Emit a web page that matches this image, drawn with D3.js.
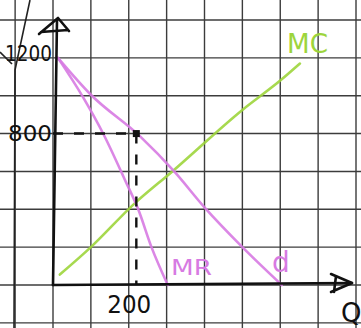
<!DOCTYPE html>
<html>
<head>
<meta charset="utf-8">
<script src="https://cdn.jsdelivr.net/npm/d3@7"></script>
<style>
body { margin: 0; background: #fff; }
svg { display: block; }
text { font-family: "DejaVu Sans", sans-serif; }
</style>
</head>
<body>
<svg width="361" height="328"></svg>
<script>
/*
Values (Q on x, P on y)
*/
var demandQ = [13, 100, 230, 320, 400, 500, 604];
var demandP = [1200, 1005, 785, 600, 410, 200, 0];
var mrQ = [13, 80, 135, 190, 225, 260, 303];
var mrP = [1200, 990, 790, 555, 400, 200, 0];
var mcQ = [18, 100, 215, 315, 500, 600, 652];
var mcP = [55, 200, 430, 600, 925, 1080, 1170];
var priceTicks = [800, 1200];
var qtyTicks = [200];
var optQ = 220, optP = 800;

var PINK = "#d77ae2", GREEN = "#9dd53c";

var svg = d3.select("svg"),
    width = +svg.attr("width"),
    height = +svg.attr("height");

// one grid cell = 100 units of Q and 200 units of P
var x = d3.scaleLinear().domain([0, 800]).range([53, 356]),
    y = d3.scaleLinear().domain([0, 1400]).range([285, 20]);

/* squared paper */
var grid = svg.append("g").attr("stroke", "#3c3c3c").attr("stroke-width", 1.4);
grid.selectAll(".v")
    .data(d3.range(-100, 801, 100))
    .enter().append("line")
    .attr("x1", function (d) { return x(d); })
    .attr("x2", function (d) { return x(d); })
    .attr("y1", 0).attr("y2", height);
grid.selectAll(".h")
    .data(d3.range(-200, 1401, 200))
    .enter().append("line")
    .attr("y1", function (d) { return y(d); })
    .attr("y2", function (d) { return y(d); })
    .attr("x1", 0).attr("x2", width);

// stray pen strokes on the left
svg.append("path")
    .attr("d", "M30,0 L15,70 L14,328 M0,52 L12,64")
    .attr("fill", "none").attr("stroke", "#222").attr("stroke-width", 1.6);

/* curves */
var line = d3.line()
    .x(function (d) { return x(d[0]); })
    .y(function (d) { return y(d[1]); })
    .curve(d3.curveMonotoneX);

function drawCurve(qs, ps, color) {
    svg.append("path")
        .datum(d3.zip(qs, ps))
        .attr("d", line)
        .attr("fill", "none")
        .attr("stroke", color)
        .attr("stroke-width", 2.6)
        .attr("stroke-linecap", "round")
        .attr("stroke-linejoin", "round")
        .attr("opacity", 0.9);
}
drawCurve(mcQ, mcP, GREEN);
drawCurve(demandQ, demandP, PINK);
drawCurve(mrQ, mrP, PINK);

/* dashed guides to the chosen point */
var dash = svg.append("g")
    .attr("stroke", "#111").attr("stroke-width", 2.4)
    .attr("stroke-dasharray", "10,11");
dash.append("line")
    .attr("x1", x(0)).attr("y1", y(optP))
    .attr("x2", x(optQ)).attr("y2", y(optP));
dash.append("line")
    .attr("x1", x(optQ)).attr("y1", y(optP))
    .attr("x2", x(optQ)).attr("y2", y(0));
svg.append("rect")
    .attr("x", x(optQ) - 3.5).attr("y", y(optP) - 3.5)
    .attr("width", 7).attr("height", 7)
    .attr("fill", "#111");

/* axes */
var axisY = svg.append("g")
    .attr("transform", "translate(" + x(0) + ",0)")
    .call(d3.axisLeft(y).tickValues(priceTicks).tickFormat(d3.format("d"))
        .tickSize(0).tickPadding(1));
var axisX = svg.append("g")
    .attr("transform", "translate(0," + y(0) + ")")
    .call(d3.axisBottom(x).tickValues(qtyTicks).tickFormat(d3.format("d"))
        .tickSize(0).tickPadding(10));
[axisY, axisX].forEach(function (a) {
    a.select(".domain").remove();
    a.selectAll("text")
        .attr("fill", "#111")
        .attr("font-size", 22)
        .attr("font-family", "DejaVu Sans, sans-serif");
});
axisY.selectAll("text")
    .attr("textLength", function (d) { return d === 1200 ? 47 : 44; })
    .attr("lengthAdjust", "spacingAndGlyphs")
    .attr("dy", function (d) { return d === 1200 ? "0.1em" : "0.3em"; });
axisX.selectAll("text").attr("font-size", 25).attr("textLength", 44)
    .attr("lengthAdjust", "spacingAndGlyphs");

var ink = svg.append("g").attr("fill", "none").attr("stroke", "#111")
    .attr("stroke-width", 2.6).attr("stroke-linecap", "round").attr("stroke-linejoin", "round");
ink.append("path").attr("d", "M" + x(0) + "," + y(0) + " L" + (x(0) + 4) + ",20");
ink.append("path").attr("d", "M39,34 L58,18 L69,31 M41,32 L68,30");
ink.append("path").attr("d", "M" + x(0) + "," + y(0) + " L352,283");
ink.append("path").attr("d", "M331,274 L352,283 L331,292 M336,276 L334,292");

/* curve labels */
svg.append("text").attr("x", 287).attr("y", 53).attr("fill", GREEN)
    .attr("font-size", 26).attr("textLength", 41).attr("lengthAdjust", "spacingAndGlyphs")
    .text("MC");
svg.append("text").attr("x", 171).attr("y", 275).attr("fill", PINK)
    .attr("font-size", 22).attr("textLength", 41).attr("lengthAdjust", "spacingAndGlyphs")
    .text("MR");
svg.append("text").attr("x", 272).attr("y", 272).attr("fill", PINK)
    .attr("font-size", 28)
    .text("d");
svg.append("text").attr("x", 341).attr("y", 322).attr("fill", "#111")
    .attr("font-size", 26)
    .text("Q");
</script>
</body>
</html>
